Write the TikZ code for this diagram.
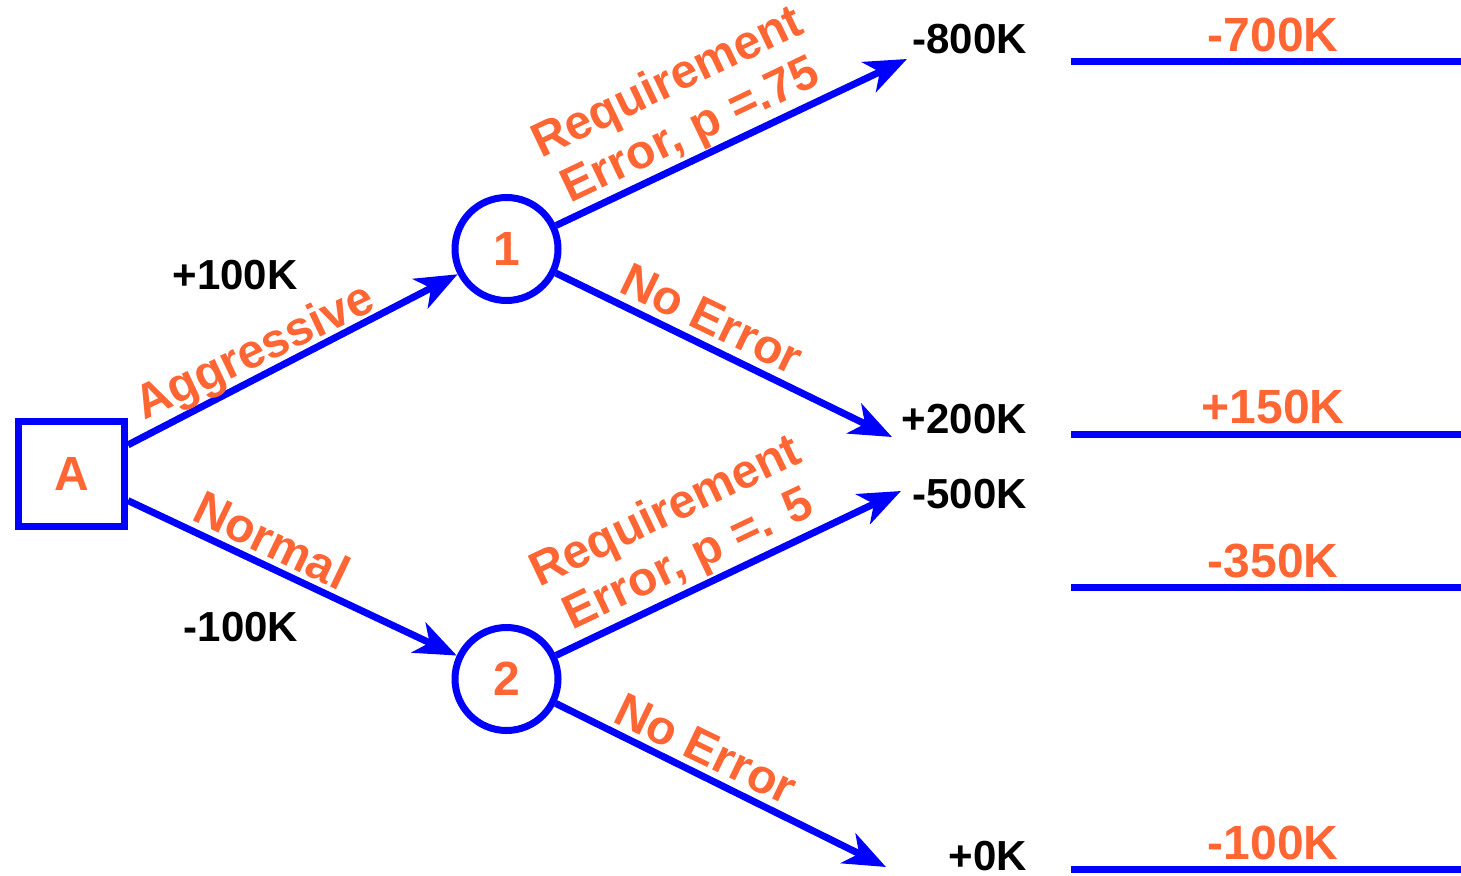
\documentclass[tikz,border=0pt]{standalone}
\usepackage{fontspec}
\setmainfont{Liberation Sans}
\usetikzlibrary{arrows.meta}
\definecolor{dblue}{HTML}{0000FF}
\definecolor{dorange}{HTML}{FF6633}
\tikzset{
  conn/.style={draw=dblue, line width=7pt, -{Stealth[length=42pt,width=33pt,inset=12pt]}},
  hline/.style={draw=dblue, line width=7pt},
  chance/.style={circle, draw=dblue, line width=7pt, minimum size=103pt, inner sep=0pt, text=dorange, font=\bfseries\fontsize{48}{52}\selectfont},
  decision/.style={rectangle, draw=dblue, line width=7pt, minimum width=106pt, minimum height=105pt, inner sep=0pt, text=dorange, font=\bfseries\fontsize{48}{52}\selectfont},
  val/.style={text=black, font=\bfseries\fontsize{42}{48}\selectfont, inner sep=0pt},
  res/.style={text=dorange, font=\bfseries\fontsize{48}{52}\selectfont, inner sep=0pt},
  branch/.style={text=dorange, font=\bfseries\fontsize{48}{53}\selectfont, inner sep=0pt, align=center},
}
\begin{document}
\begin{tikzpicture}[x=1pt,y=-1pt]
\useasboundingbox (0,0) rectangle (1461,875);
\node[decision] (A) at (71.5,474) {A};
\node[chance] (n1) at (506.5,249) {1};
\node[chance] (n2) at (506.5,679) {2};
\coordinate (t1) at (907,59);
\coordinate (t2) at (892,437);
\coordinate (t3) at (901,491);
\coordinate (t4) at (886,867);
\draw[conn] (A) -- (n1);
\draw[conn] (A) -- (n2);
\draw[conn] (n1) -- (t1);
\draw[conn] (n1) -- (t2);
\draw[conn] (n2) -- (t3);
\draw[conn] (n2) -- (t4);
% value labels
\node[val, anchor=base] (v100) at (235,289) {+100K};
\node[val, anchor=base] (vm100) at (241,641) {-100K};
\node[val, anchor=base east] (v800) at (1027,53) {-800K};
\node[val, anchor=base east] (v200) at (1027,433) {+200K};
\node[val, anchor=base east] (v500) at (1027,508) {-500K};
\node[val, anchor=base east] (v0) at (1027,870) {+0K};
% branch labels
\node[branch, rotate=25.5] (lagg) at (256,354) {Aggressive};
\node[branch, rotate=-25.7] (lnor) at (272,540) {Normal};
\node[branch, rotate=25.5] (lre1) at (680,108) {Requirement\\Error, p =.75};
\node[branch, rotate=-25.7] (lno1) at (712,319) {No Error};
\node[branch, rotate=25.5] (lre2) at (678,537) {Requirement\\Error, p =. 5};
\node[branch, rotate=-25.7] (lno2) at (706,749) {No Error};
% result lines
\coordinate (h1a) at (1071,62); \coordinate (h1b) at (1461,62);
\coordinate (h2a) at (1071,434); \coordinate (h2b) at (1461,434);
\coordinate (h3a) at (1071,587); \coordinate (h3b) at (1461,587);
\coordinate (h4a) at (1071,869); \coordinate (h4b) at (1461,869);
\draw[hline] (h1a) -- (h1b);
\draw[hline] (h2a) -- (h2b);
\draw[hline] (h3a) -- (h3b);
\draw[hline] (h4a) -- (h4b);
\node[res, anchor=base] (r1) at (1273,52) {-700K};
\node[res, anchor=base] (r2) at (1273,423) {+150K};
\node[res, anchor=base] (r3) at (1273,577) {-350K};
\node[res, anchor=base] (r4) at (1273,859) {-100K};
\end{tikzpicture}
\end{document}
